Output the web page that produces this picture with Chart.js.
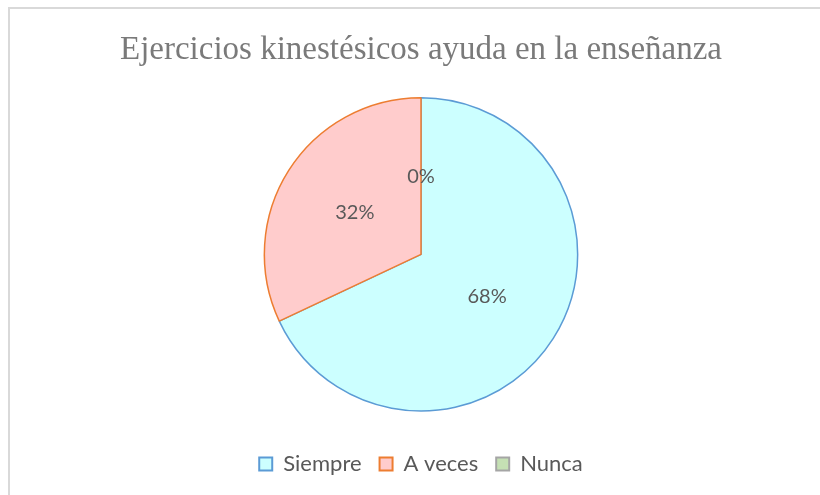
<!DOCTYPE html>
<html>
<head>
<meta charset="utf-8">
<script src="https://cdn.jsdelivr.net/npm/chart.js@4.4.1/dist/chart.umd.min.js"></script>
<style>
html,body{margin:0;padding:0;background:#fff;overflow:hidden;}
#frame{position:absolute;left:8px;top:7px;width:830px;height:510px;border:2px solid #d9d9d9;box-sizing:border-box;}
#wrap{position:absolute;left:0;top:0;width:820px;height:495px;}
</style>
</head>
<body>
<div id="frame"></div>
<div id="wrap"><canvas id="c" width="820" height="495"></canvas></div>
<script>
const titleText = "Ejercicios kinestésicos ayuda en la enseñanza";
const categories = ["Siempre", "A veces", "Nunca"];
const values = [68, 32, 0];
const fillColors = ["#CCFFFF", "#FFCCCC", "#C5E0B4"];
const borderColors = ["#5B9BD5", "#ED7D31", "#A5A5A5"];

const labelPlugin = {
  id: "sliceLabels",
  afterDatasetsDraw(chart) {
    const ctx = chart.ctx;
    const meta = chart.getDatasetMeta(0);
    ctx.save();
    ctx.font = "20px Lato, 'Open Sans', sans-serif";
    ctx.fillStyle = "#595959";
    ctx.textAlign = "center";
    ctx.textBaseline = "middle";
    meta.data.forEach((arc, i) => {
      const p = arc.tooltipPosition();
      ctx.fillText(values[i] + "%", p.x, p.y);
    });
    ctx.restore();
  }
};

new Chart(document.getElementById("c"), {
  type: "pie",
  data: {
    labels: categories,
    datasets: [{
      data: values,
      backgroundColor: fillColors,
      borderColor: borderColors,
      borderWidth: 1.5
    }]
  },
  options: {
    responsive: false,
    animation: false,
    layout: { padding: { left: 22, right: 0, top: 0, bottom: 10 } },
    plugins: {
      tooltip: { enabled: false },
      title: {
        display: true,
        text: titleText,
        color: "#7a7a7a",
        font: { family: "'Liberation Serif', 'Times New Roman', serif", size: 33, weight: "normal" },
        padding: { top: 31, bottom: 26.4 }
      },
      legend: {
        position: "bottom",
        title: { display: true, text: " ", font: { size: 1 }, padding: { top: 11, bottom: 11 } },
        labels: {
          color: "#595959",
          font: { family: "Lato, 'Open Sans', sans-serif", size: 22 },
          boxWidth: 13,
          boxHeight: 13,
          padding: 18,
          generateLabels(chart) {
            return categories.map((c, i) => ({
              text: c,
              fillStyle: fillColors[i],
              strokeStyle: borderColors[i],
              lineWidth: 2,
              fontColor: "#595959",
              index: i,
              hidden: false
            }));
          }
        }
      }
    }
  },
  plugins: [labelPlugin]
});
</script>
</body>
</html>
